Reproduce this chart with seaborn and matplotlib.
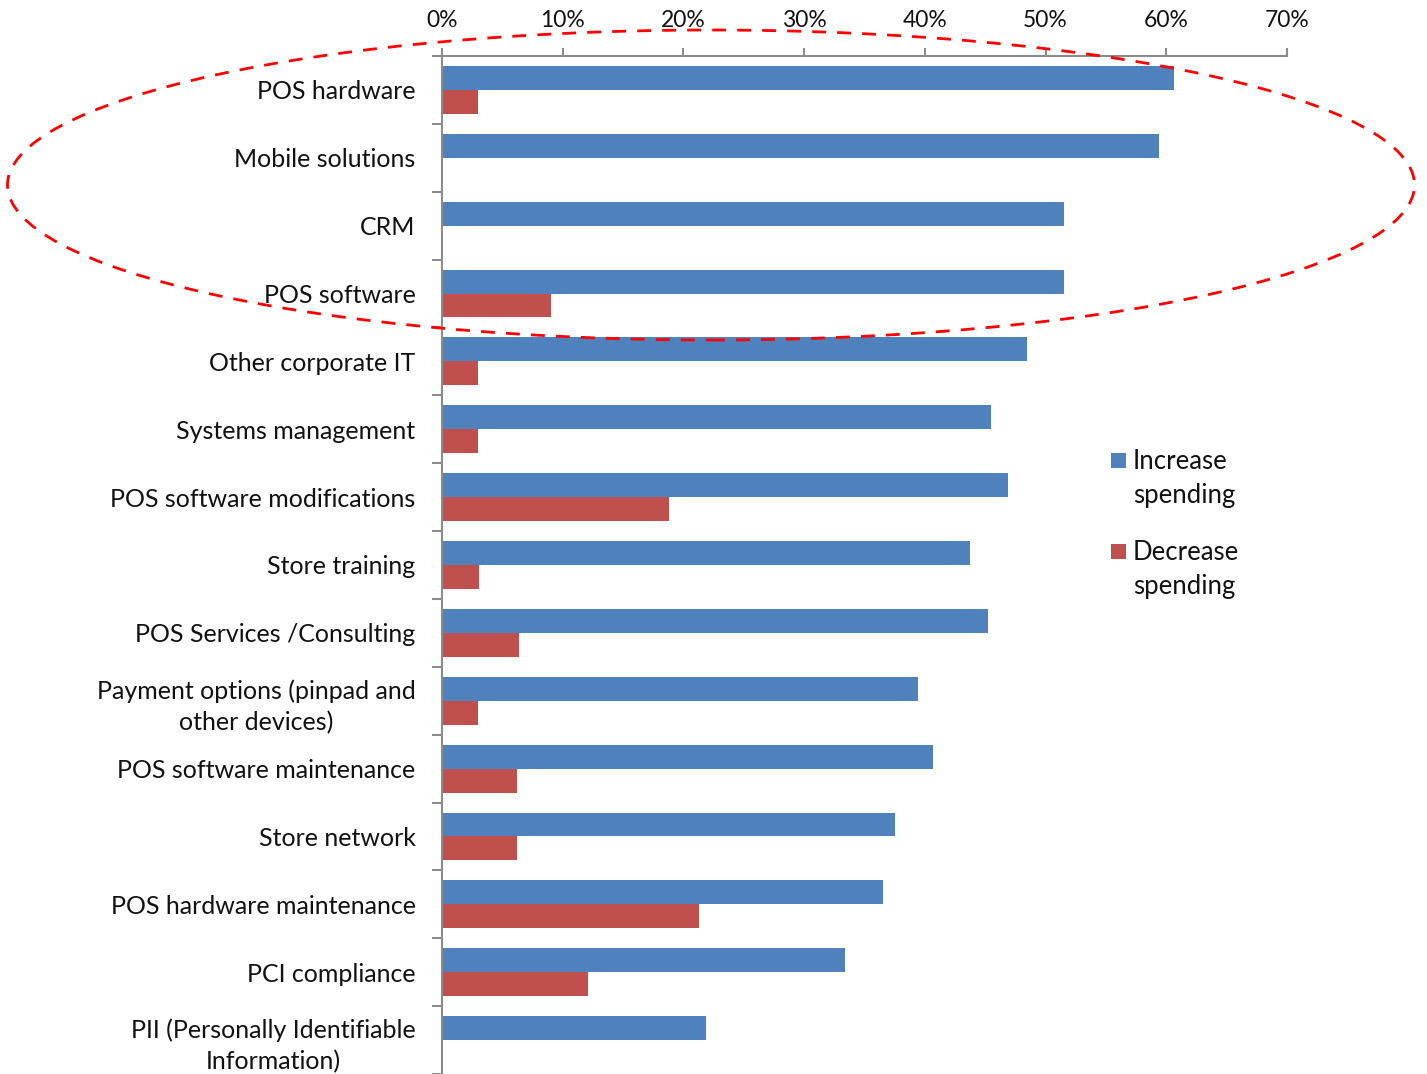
import matplotlib
matplotlib.use("Agg")
import matplotlib.pyplot as plt
import seaborn as sns
import pandas as pd
from matplotlib.patches import Ellipse, Rectangle
from matplotlib.ticker import PercentFormatter

categories = [
    "POS hardware", "Mobile solutions", "CRM", "POS software",
    "Other corporate IT", "Systems management", "POS software modifications",
    "Store training", "POS Services /Consulting",
    "Payment options (pinpad and\nother devices)",
    "POS software maintenance", "Store network", "POS hardware maintenance",
    "PCI compliance", "PII (Personally Identifiable\nInformation)",
]
increase = [60.6, 59.4, 51.5, 51.5, 48.5, 45.5, 46.9, 43.7, 45.2, 39.4,
            40.7, 37.5, 36.5, 33.4, 21.9]
decrease = [3.0, 0.0, 0.0, 9.0, 3.0, 3.0, 18.8, 3.1, 6.4, 3.0,
            6.2, 6.2, 21.3, 12.1, 0.0]
series_names = ["Increase\nspending", "Decrease\nspending"]
colors = ["#4F81BD", "#C0504D"]

df = pd.DataFrame({
    "category": categories * 2,
    "value": increase + decrease,
    "series": [series_names[0]] * len(categories) + [series_names[1]] * len(categories),
})

sns.set_theme(style="white")
plt.rcParams["font.family"] = ["Lato", "DejaVu Sans"]
plt.rcParams["text.color"] = "#111111"

fig = plt.figure(figsize=(14.27, 10.74), dpi=100)
ax = fig.add_axes([442 / 1427, 0.0, (1287 - 442) / 1427, 1 - 56 / 1074])
ax.patch.set_alpha(0)

sns.barplot(data=df, y="category", x="value", hue="series", orient="h",
            palette=colors, width=0.706, gap=0, ax=ax, order=categories,
            hue_order=series_names, saturation=1, edgecolor="none",
            legend=False)

ax.set_xlim(0, 70)
ax.set_xticks(range(0, 71, 10))
ax.xaxis.set_major_formatter(PercentFormatter(decimals=0))
ax.xaxis.tick_top()
ax.set_xlabel("")
ax.set_ylabel("")
ax.set_ylim(len(categories) - 0.5, -0.5)

for s in ["right", "bottom"]:
    ax.spines[s].set_visible(False)
for s in ["left", "top"]:
    ax.spines[s].set_color("#8C8C8C")
    ax.spines[s].set_linewidth(1.5)

ax.tick_params(axis="x", which="major", direction="out", length=6, width=1.5,
               color="#8C8C8C", labelsize=16.5, pad=12, top=True, labeltop=True,
               labelcolor="#111111")
ax.set_yticks([i for i in range(len(categories))])
ax.set_yticklabels(categories, fontsize=18, multialignment="center",
                   linespacing=1.4, color="#111111")
ax.tick_params(axis="y", which="major", length=0, pad=19)
ax.set_yticks([i - 0.5 for i in range(len(categories) + 1)], minor=True)
ax.tick_params(axis="y", which="minor", direction="out", length=7, width=1.5,
               color="#8C8C8C", left=True)

# legend (squares aligned to the first line of each two-line label)
legend_tops = [449, 540]
for name, col, ytop in zip(series_names, colors, legend_tops):
    fig.patches.append(Rectangle((1111 / 1427, 1 - (ytop + 19) / 1074),
                                 15 / 1427, 15 / 1074, transform=fig.transFigure,
                                 facecolor=col, edgecolor="none"))
    fig.text(1133 / 1427, 1 - ytop / 1074, name, fontsize=18.5, va="top",
             ha="left", linespacing=1.45, color="#111111")

ell = Ellipse((711 / 1427, 1 - 185 / 1074), 1407 / 1427, 310 / 1074,
              transform=fig.transFigure, fill=False, edgecolor="#FF0000",
              linestyle=(0, (5, 4)), linewidth=2, zorder=0.5)
fig.patches.append(ell)

fig.savefig("out.png", dpi=100)
